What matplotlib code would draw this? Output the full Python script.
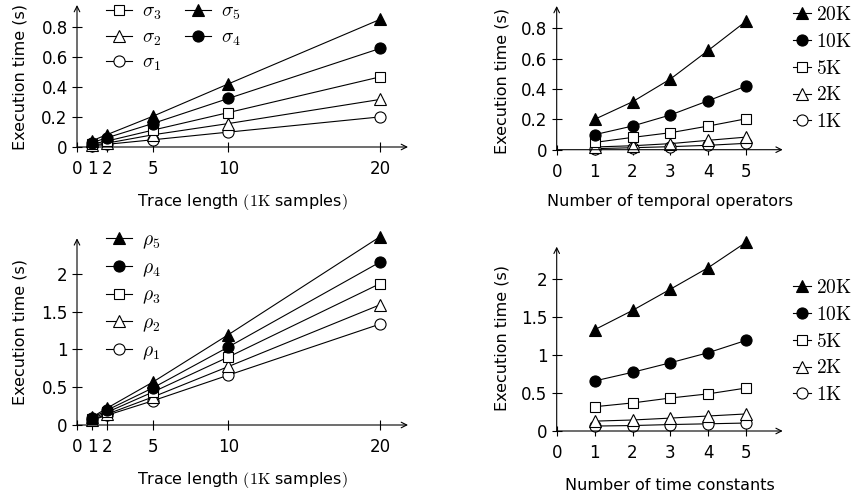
import matplotlib
matplotlib.use("Agg")
import matplotlib.pyplot as plt

# ---------------- data ----------------
trace_lengths = [1, 2, 5, 10, 20]          # 1K samples
sigma1 = [0.007, 0.018, 0.048, 0.099, 0.200]
sigma2 = [0.013, 0.026, 0.081, 0.156, 0.316]
sigma3 = [0.020, 0.040, 0.112, 0.229, 0.466]
sigma4 = [0.029, 0.062, 0.156, 0.323, 0.655]
sigma5 = [0.042, 0.083, 0.204, 0.420, 0.848]

rho1 = [0.065, 0.130, 0.320, 0.660, 1.335]
rho2 = [0.072, 0.145, 0.370, 0.774, 1.590]
rho3 = [0.085, 0.170, 0.435, 0.900, 1.870]
rho4 = [0.095, 0.198, 0.490, 1.033, 2.155]
rho5 = [0.105, 0.225, 0.567, 1.196, 2.490]

n_operators = [1, 2, 3, 4, 5]
n_constants = [1, 2, 3, 4, 5]
size_labels = ['1K', '2K', '5K', '10K', '20K']

tl_xticks = [0, 1, 2, 5, 10, 20]
tr_xticks = [0, 1, 2, 3, 4, 5]
top_yticks = [0, 0.2, 0.4, 0.6, 0.8]
top_yticklabels = ['0', '0.2', '0.4', '0.6', '0.8']
bot_yticks = [0, 0.5, 1, 1.5, 2]
bot_yticklabels = ['0', '0.5', '1', '1.5', '2']

sigmas = [sigma1, sigma2, sigma3, sigma4, sigma5]
rhos = [rho1, rho2, rho3, rho4, rho5]

# ---------------- style ----------------
plt.rcParams['font.family'] = ['DejaVu Sans']
plt.rcParams['mathtext.fontset'] = 'cm'

W, H = 859, 499
fig = plt.figure(figsize=(W / 100, H / 100), dpi=100)

# marker styles for series 1..5
styles = [
    dict(marker='o', mfc='white', ms=8.0),
    dict(marker='^', mfc='white', ms=8.0),
    dict(marker='s', mfc='white', ms=7.6),
    dict(marker='o', mfc='black', ms=8.0),
    dict(marker='^', mfc='black', ms=8.0),
]

TICK_FS = 12
LABEL_FS = 11.5
LEG_FS = 14


def make_axes(left, right, top, bottom):
    return fig.add_axes([left / W, 1 - bottom / H, (right - left) / W, (bottom - top) / H])


def style_axes(ax):
    for s in ax.spines.values():
        s.set_visible(False)
    ax.annotate('', xy=(1, 0), xytext=(0, 0), xycoords='axes fraction',
                arrowprops=dict(arrowstyle='->', lw=0.8, color='black',
                                shrinkA=0, shrinkB=0, mutation_scale=10))
    ax.annotate('', xy=(0, 1), xytext=(0, 0), xycoords='axes fraction',
                arrowprops=dict(arrowstyle='->', lw=0.8, color='black',
                                shrinkA=0, shrinkB=0, mutation_scale=10))
    ax.tick_params(axis='both', direction='inout', length=7, width=0.8,
                   labelsize=TICK_FS)
    ax.tick_params(axis='y', pad=3.2)
    ax.tick_params(axis='x', pad=6.0)
    ax.patch.set_visible(False)


def plot_series(ax, xs, ys, st, label):
    ax.plot(xs, ys, color='black', lw=0.8, mec='black', mew=0.8,
            clip_on=False, label=label, **st)


LEG_KW = dict(frameon=False, fontsize=LEG_FS, borderpad=0, borderaxespad=0,
              loc='upper left')

# ---------------- top-left ----------------
ax1 = make_axes(77, 408, 5, 147)
style_axes(ax1)
for i in range(5):
    plot_series(ax1, trace_lengths, sigmas[i], styles[i], r'$\sigma_{%d}$' % (i + 1))
ax1.set_xlim(0, 21.85)
ax1.set_ylim(0, 0.944)
ax1.set_xticks(tl_xticks)
ax1.set_xticklabels([str(t) for t in tl_xticks])
ax1.set_yticks(top_yticks)
ax1.set_yticklabels(top_yticklabels)
h1, l1 = ax1.get_legend_handles_labels()
order1 = [2, 1, 0, 4, 3]
fig.legend([h1[k] for k in order1], [l1[k] for k in order1], ncol=2,
           bbox_to_anchor=(106 / W, 1 - 2 / H),
           handlelength=1.35, handletextpad=0.5,
           labelspacing=0.27, columnspacing=1.2, **LEG_KW)
fig.text(20 / W, 1 - 77 / H, 'Execution time (s)', rotation=90,
         ha='center', va='center', fontsize=LABEL_FS)
fig.text(242.5 / W, 1 - 201.7 / H, r'Trace length $(\mathrm{1K}$ samples$)$',
         ha='center', va='center', fontsize=LABEL_FS)

# ---------------- top-right ----------------
ax2 = make_axes(556.7, 782.7, 6, 149.7)
style_axes(ax2)
for j in range(5):
    ys = [s[j] for s in sigmas]
    plot_series(ax2, n_operators, ys, styles[j], r'$\mathrm{%s}$' % size_labels[j])
ax2.set_xlim(0, 5.96)
ax2.set_ylim(0, 0.947)
ax2.set_xticks(tr_xticks)
ax2.set_xticklabels([str(t) for t in tr_xticks])
ax2.set_yticks(top_yticks)
ax2.set_yticklabels(top_yticklabels)
h2, l2 = ax2.get_legend_handles_labels()
fig.legend(h2[::-1], l2[::-1],
           bbox_to_anchor=(793 / W, 1 - 5 / H),
           handlelength=0.95, handletextpad=0.25,
           labelspacing=0.4, **LEG_KW)
fig.text(501.7 / W, 1 - 80.7 / H, 'Execution time (s)', rotation=90,
         ha='center', va='center', fontsize=LABEL_FS)
fig.text(669.7 / W, 1 - 201.7 / H, 'Number of temporal operators',
         ha='center', va='center', fontsize=LABEL_FS)

# ---------------- bottom-left ----------------
ax3 = make_axes(77, 408, 238.3, 425)
style_axes(ax3)
for i in range(5):
    plot_series(ax3, trace_lengths, rhos[i], styles[i], r'$\rho_{%d}$' % (i + 1))
ax3.set_xlim(0, 21.85)
ax3.set_ylim(0, 2.47)
ax3.set_xticks(tl_xticks)
ax3.set_xticklabels([str(t) for t in tl_xticks])
ax3.set_yticks(bot_yticks)
ax3.set_yticklabels(bot_yticklabels)
h3, l3 = ax3.get_legend_handles_labels()
fig.legend(h3[::-1], l3[::-1],
           bbox_to_anchor=(106 / W, 1 - 230 / H),
           handlelength=1.35, handletextpad=0.5,
           labelspacing=0.36, **LEG_KW)
fig.text(20 / W, 1 - 332 / H, 'Execution time (s)', rotation=90,
         ha='center', va='center', fontsize=LABEL_FS)
fig.text(242.5 / W, 1 - 480 / H, r'Trace length $(\mathrm{1K}$ samples$)$',
         ha='center', va='center', fontsize=LABEL_FS)

# ---------------- bottom-right ----------------
ax4 = make_axes(556.7, 782.7, 246.7, 431)
style_axes(ax4)
for j in range(5):
    ys = [r[j] for r in rhos]
    plot_series(ax4, n_constants, ys, styles[j], r'$\mathrm{%s}$' % size_labels[j])
ax4.set_xlim(0, 5.96)
ax4.set_ylim(0, 2.43)
ax4.set_xticks(tr_xticks)
ax4.set_xticklabels([str(t) for t in tr_xticks])
ax4.set_yticks(bot_yticks)
ax4.set_yticklabels(bot_yticklabels)
h4, l4 = ax4.get_legend_handles_labels()
fig.legend(h4[::-1], l4[::-1],
           bbox_to_anchor=(793 / W, 1 - 278 / H),
           handlelength=0.95, handletextpad=0.25,
           labelspacing=0.4, **LEG_KW)
fig.text(501.7 / W, 1 - 338 / H, 'Execution time (s)', rotation=90,
         ha='center', va='center', fontsize=LABEL_FS)
fig.text(669.7 / W, 1 - 485 / H, 'Number of time constants',
         ha='center', va='center', fontsize=LABEL_FS)

fig.savefig('out.png', dpi=100)
